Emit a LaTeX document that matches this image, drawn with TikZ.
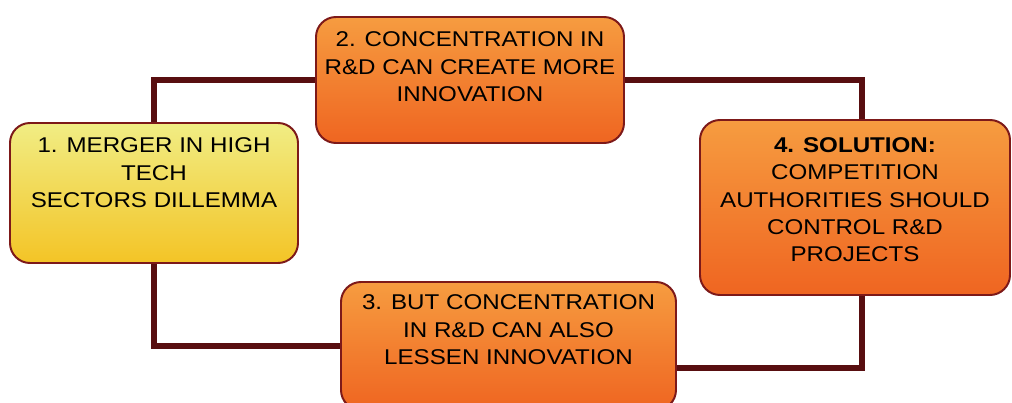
\documentclass[tikz,border=0pt]{standalone}
\usepackage{fontspec}
\setmainfont{Liberation Sans}[FakeStretch=1.13]
\usetikzlibrary{positioning,backgrounds}
\definecolor{linkred}{RGB}{88,14,16}
\definecolor{edgered}{RGB}{125,25,25}
\definecolor{paleyellow}{RGB}{241,237,132}
\definecolor{deepyellow}{RGB}{243,196,38}
\definecolor{lightorange}{RGB}{246,156,64}
\definecolor{deeporange}{RGB}{239,101,33}

\tikzset{
  stage/.style={draw=edgered, line width=1.4pt, rounded corners=0.5cm,
    top color=lightorange, bottom color=deeporange},
  start/.style={stage, top color=paleyellow, bottom color=deepyellow},
  stagetext/.style={inner sep=0pt, align=center,
    font=\fontsize{15.2}{19.45}\selectfont},
  link/.style={draw=linkred, line width=0.15cm}
}

\begin{document}
\begin{tikzpicture}
    \useasboundingbox (0,0) rectangle (25.3,10.075);
    \clip (0,0) rectangle (25.3,10.075);

    % the four boxes of the cycle
    \node[start, minimum width=7.2cm, minimum height=3.5cm] (merger) at (3.85,5.25) {};
    \node[stage, minimum width=7.7cm, minimum height=3.15cm] (create) at (11.75,8.075) {};
    \node[stage, minimum width=7.75cm, minimum height=4.375cm] (solution) at (21.375,4.8875) {};
    \node[stage, minimum width=8.375cm, minimum height=3.2cm] (lessen) at (12.7125,1.425) {};

    \node[stagetext, below=0.39cm of merger.north] (merger-text)
        {1. MERGER IN HIGH\\TECH\\SECTORS DILLEMMA};
    \node[stagetext, below=0.39cm of create.north] (create-text)
        {2. CONCENTRATION IN\\R\&D CAN CREATE MORE\\INNOVATION};
    \node[stagetext, below=0.46cm of solution.north] (solution-text)
        {\textbf{4. SOLUTION:}\\COMPETITION\\AUTHORITIES SHOULD\\CONTROL R\&D\\PROJECTS};
    \node[stagetext, below=0.34cm of lessen.north] (lessen-text)
        {3. BUT CONCENTRATION\\IN R\&D CAN ALSO\\LESSEN INNOVATION};

    % links go behind the boxes
    \begin{scope}[on background layer]
        \draw[link] (merger.north) |- (create.west);
        \draw[link] (create.east) -| ([xshift=0.175cm]solution.north);
        \draw[link] ([xshift=0.175cm]solution.south) |- ([yshift=-0.55cm]lessen.east);
        \draw[link] (lessen.west) -| (merger.south);
    \end{scope}
\end{tikzpicture}
\end{document}
